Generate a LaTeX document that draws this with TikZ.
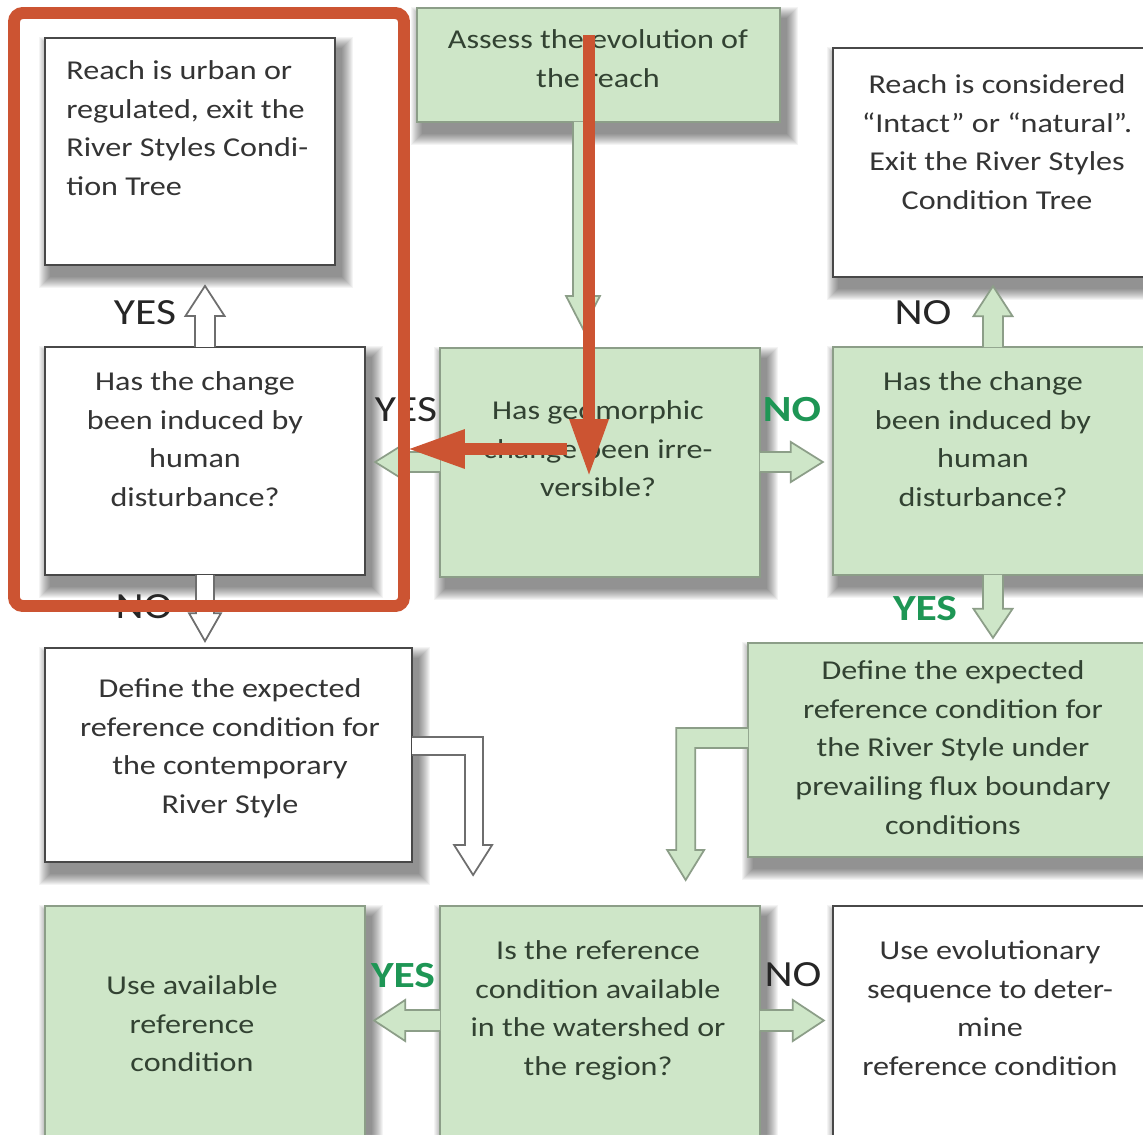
\documentclass[tikz,border=0pt]{standalone}
\usepackage{fontspec}
\setmainfont{Carlito}[FakeStretch=1.18]
\usetikzlibrary{calc,arrows.meta}
\pgfdeclarelayer{back}
\pgfdeclarelayer{shadow}
\pgfsetlayers{back,shadow,main}
\definecolor{boxgreen}{RGB}{206,230,200}
\definecolor{gborder}{RGB}{140,158,136}
\definecolor{wborder}{RGB}{72,72,72}
\definecolor{warrowborder}{RGB}{110,110,110}
\definecolor{gtext}{RGB}{50,66,50}
\definecolor{wtext}{RGB}{52,52,52}
\definecolor{lblgreen}{RGB}{30,150,85}
\definecolor{lbldark}{RGB}{38,38,38}
\definecolor{annored}{RGB}{204,84,50}
\newcommand\boxfont{\fontsize{15.5}{22.1}\selectfont}
\newcommand\lblfont{\fontsize{21}{24}\selectfont}
\newcommand\softshade[1]{%
  \begin{pgfonlayer}{shadow}
    \foreach \k in {0,...,11}{%
      \fill[black,opacity=0.045] ($(#1.north west)+(6-\k,11-\k)$) rectangle ($(#1.south east)+(6+\k,11+\k)$);
    }
  \end{pgfonlayer}}
\tikzset{
  wbox/.style={draw=wborder,line width=1.3pt,fill=white,inner sep=0pt},
  gbox/.style={draw=gborder,line width=1pt,fill=boxgreen,inner sep=0pt},
  wtxt/.style={font=\boxfont,text=wtext,align=center,anchor=north,inner sep=0pt},
  gtxt/.style={font=\boxfont,text=gtext,align=center,anchor=north,inner sep=0pt},
  warr/.style={draw=warrowborder,line width=1pt,fill=white,line join=miter},
  garr/.style={draw=gborder,line width=1pt,fill=boxgreen,line join=miter},
  lbldk/.style={font=\lblfont,text=lbldark,inner sep=0pt},
  lblgr/.style={font=\lblfont\bfseries,text=lblgreen,inner sep=0pt},
  annoline/.style={draw=annored,line width=6.8pt},
  annoarrow/.style={draw=annored,line width=6.8pt,-{Triangle[length=33pt,width=20.5pt]}}
}
\begin{document}
\begin{tikzpicture}[x=0.02cm,y=-0.02cm]
\useasboundingbox (0,0) rectangle (1143,1134);
\begin{pgfonlayer}{back}
\fill[white] (0,0) rectangle (1143,1134);
\end{pgfonlayer}
% boxes
\node[wbox,minimum width=5.8cm,minimum height=4.54cm] (A) at (190,151.5) {};
\node[gbox,minimum width=7.26cm,minimum height=2.28cm] (B) at (598.5,65) {};
\node[wbox,minimum width=6.54cm,minimum height=4.58cm] (C) at (996.5,162.5) {};
\node[wbox,minimum width=6.4cm,minimum height=4.56cm] (D) at (205,461) {};
\node[gbox,minimum width=6.4cm,minimum height=4.58cm] (E) at (600,462.5) {};
\node[gbox,minimum width=6.54cm,minimum height=4.56cm] (F) at (996.5,461) {};
\node[wbox,minimum width=7.34cm,minimum height=4.28cm] (G) at (228.5,755) {};
\node[gbox,minimum width=8.24cm,minimum height=4.28cm] (H) at (954,750) {};
\node[gbox,minimum width=6.4cm,minimum height=4.88cm] (I) at (205,1028) {};
\node[gbox,minimum width=6.4cm,minimum height=4.88cm] (J) at (600,1028) {};
\node[wbox,minimum width=6.54cm,minimum height=4.88cm] (K) at (996.5,1028) {};
\softshade{A}\softshade{B}\softshade{C}\softshade{D}\softshade{E}\softshade{F}
\softshade{G}\softshade{H}\softshade{I}\softshade{J}\softshade{K}
% texts
\node[wtxt,align=left,anchor=north west] (At) at (66,60) {Reach is urban or\\regulated, exit the\\River Styles Condi-\\tion Tree};
\node[gtxt] (Bt) at (598,29) {Assess the evolution of\\the reach};
\node[wtxt] (Ct) at (997,74) {Reach is considered\\“Intact” or “natural”.\\Exit the River Styles\\Condition Tree};
\node[wtxt] (Dt) at (195,371) {Has the change\\been induced by\\human\\disturbance?};
\node[gtxt] (Et) at (598,400) {Has geomorphic\\change been irre-\\versible?};
\node[gtxt] (Ft) at (983,371) {Has the change\\been induced by\\human\\disturbance?};
\node[wtxt] (Gt) at (230,678) {Define the expected\\reference condition for\\the contemporary\\River Style};
\node[gtxt] (Ht) at (953,660) {Define the expected\\reference condition for\\the River Style under\\prevailing flux boundary\\conditions};
\node[gtxt] (It) at (192,975) {Use available\\reference\\condition};
\node[gtxt] (Jt) at (598,940) {Is the reference\\condition available\\in the watershed or\\the region?};
\node[wtxt] (Kt) at (990,940) {Use evolutionary\\sequence to deter-\\mine\\reference condition};
% block arrows
\filldraw[warr] ($(D.north)+(-10,1)$) -- ++(0,-31) -- ++(-9.5,0) -- ++(19.5,-30) -- ++(19.5,30) -- ++(-9.5,0) -- ++(0,31);
\filldraw[warr] ($(D.south)+(-9,-1)$) -- ++(0,38) -- ++(-7,0) -- ++(16,28) -- ++(16,-28) -- ++(-7,0) -- ++(0,-38);
\filldraw[garr] ($(B.south)+(-25.5,-1)$) -- ++(0,174) -- ++(-7,0) -- ++(17,33) -- ++(17,-33) -- ++(-7,0) -- ++(0,-174);
\filldraw[garr] ($(E.west)+(1,-10.5)$) -- ++(-33,0) -- ++(0,-10) -- ++(-32,20) -- ++(32,20) -- ++(0,-10) -- ++(33,0);
\filldraw[garr] ($(E.east)+(-1,-10.5)$) -- ++(31,0) -- ++(0,-10) -- ++(32,20) -- ++(-32,20) -- ++(0,-10) -- ++(-31,0);
\filldraw[garr] ($(F.north)+(-13.5,1)$) -- ++(0,-31) -- ++(-9.5,0) -- ++(19.5,-30) -- ++(19.5,30) -- ++(-9.5,0) -- ++(0,31);
\filldraw[garr] ($(F.south)+(-13.5,-1)$) -- ++(0,34) -- ++(-9.5,0) -- ++(19.5,29) -- ++(19.5,-29) -- ++(-9.5,0) -- ++(0,-34);
\filldraw[garr] ($(J.west)+(1,-18)$) -- ++(-35,0) -- ++(0,-10) -- ++(-31,20.5) -- ++(31,20.5) -- ++(0,-10) -- ++(35,0);
\filldraw[garr] ($(J.east)+(-1,-18)$) -- ++(33,0) -- ++(0,-10) -- ++(31,20.5) -- ++(-31,20.5) -- ++(0,-10) -- ++(-33,0);
\filldraw[warr] ($(G.east)+(-1,-18)$) -- ++(71,0) -- ++(0,108) -- ++(9,0) -- ++(-19,30) -- ++(-19,-30) -- ++(11,0) -- ++(0,-90) -- ++(-53,0);
\filldraw[garr] ($(H.west)+(1,-22)$) -- ++(-72,0) -- ++(0,122) -- ++(-9,0) -- ++(18.5,30) -- ++(18.5,-30) -- ++(-9,0) -- ++(0,-102) -- ++(53,0);
% labels
\node[lbldk] (l1) at (145,313) {YES};
\node[lbldk] (l2) at (923,313) {NO};
\node[lbldk] (l3) at (406,410) {YES};
\node[lblgr] (l4) at (792,410) {NO};
\node[lbldk] (l5) at (144,607) {NO};
\node[lblgr] (l6) at (925,609) {YES};
\node[lblgr] (l7) at (403,976) {YES};
\node[lbldk] (l8) at (793,975) {NO};
% red annotations
\draw[annoline,rounded corners=5pt] (14,13) rectangle (404,606);
\coordinate (rv1) at (589,35);
\coordinate (rv2) at (589,477);
\coordinate (rh1) at (567,449);
\coordinate (rh2) at (407,449);
\draw[annoarrow] (rv1) -- (rv2);
\draw[annoarrow] (rh1) -- (rh2);
\end{tikzpicture}
\end{document}
